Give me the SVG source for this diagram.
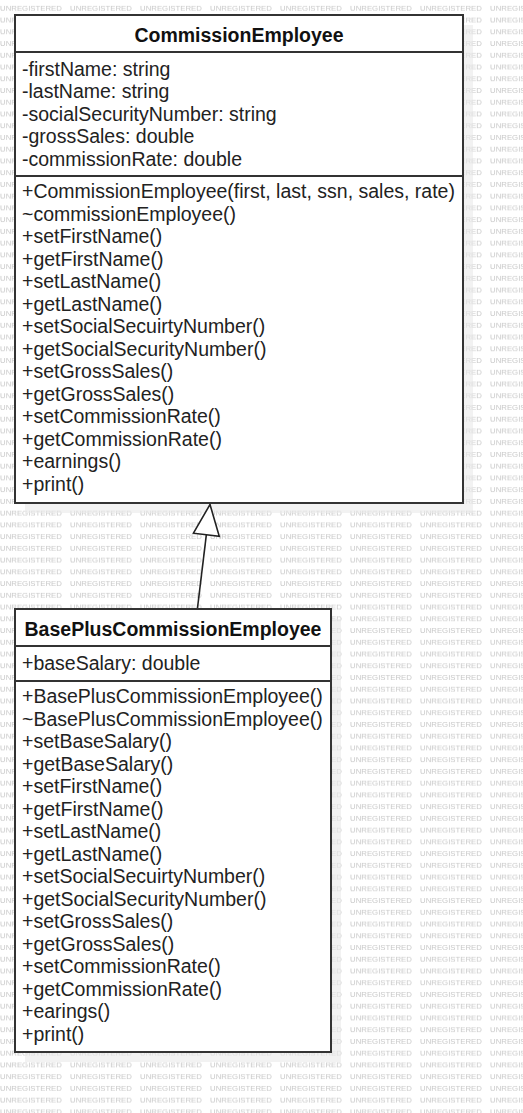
<svg xmlns="http://www.w3.org/2000/svg" width="523" height="1113" viewBox="0 0 523 1113">
<style>
.wm{font-family:"Liberation Sans",Arial,sans-serif;font-size:7.8px;fill:#c8c8c8}
.box{fill:#ffffff;stroke:#333333;stroke-width:2}
.sep{stroke:#333333;stroke-width:2}
.shadow{fill:#e9e9e9;fill-opacity:0.6}
.title{font-family:"Liberation Sans",Arial,sans-serif;font-size:19.5px;font-weight:bold;fill:#111111;text-anchor:middle}
.txt{font-family:"Liberation Sans",Arial,sans-serif;font-size:19.5px;fill:#222222}
.conn{stroke:#222222;stroke-width:1.6;fill:none}
</style>
<defs>
<pattern id="wmp" patternUnits="userSpaceOnUse" x="0" y="0" width="70" height="11.74">
<text class="wm" x="0" y="11">UNREGISTERED</text>
</pattern>
<marker id="gen" markerUnits="userSpaceOnUse" viewBox="0 0 33 29" refX="32" refY="14.5" markerWidth="33" markerHeight="29" orient="auto">
<path d="M1.5,1.5 L32,14.5 L1.5,27.5 Z" fill="#ffffff" stroke="#222222" stroke-width="1.6" stroke-linejoin="miter"/>
</marker>
</defs>
<rect x="0" y="0" width="523" height="1113" fill="#ffffff"/>
<rect x="0" y="0" width="523" height="1113" fill="url(#wmp)"/>
<g id="shadows">
<rect class="shadow" x="25" y="25" width="448" height="488"/>
<rect class="shadow" x="25" y="619" width="316" height="443"/>
</g>
<g id="CommissionEmployee">
<rect class="box" x="15" y="15" width="448" height="488"/>
<line class="sep" x1="15" y1="52" x2="463" y2="52"/>
<line class="sep" x1="15" y1="176" x2="463" y2="176"/>
<text class="title" x="239" y="42">CommissionEmployee</text>
<text class="txt" x="22" y="75.5"><tspan x="22">-firstName: string</tspan><tspan x="22" dy="22.5">-lastName: string</tspan><tspan x="22" dy="22.5">-socialSecurityNumber: string</tspan><tspan x="22" dy="22.5">-grossSales: double</tspan><tspan x="22" dy="22.5">-commissionRate: double</tspan></text>
<text class="txt" x="22" y="198"><tspan x="22">+CommissionEmployee(first, last, ssn, sales, rate)</tspan><tspan x="22" dy="22.5">~commissionEmployee()</tspan><tspan x="22" dy="22.5">+setFirstName()</tspan><tspan x="22" dy="22.5">+getFirstName()</tspan><tspan x="22" dy="22.5">+setLastName()</tspan><tspan x="22" dy="22.5">+getLastName()</tspan><tspan x="22" dy="22.5">+setSocialSecuirtyNumber()</tspan><tspan x="22" dy="22.5">+getSocialSecurityNumber()</tspan><tspan x="22" dy="22.5">+setGrossSales()</tspan><tspan x="22" dy="22.5">+getGrossSales()</tspan><tspan x="22" dy="22.5">+setCommissionRate()</tspan><tspan x="22" dy="22.5">+getCommissionRate()</tspan><tspan x="22" dy="22.5">+earnings()</tspan><tspan x="22" dy="22.5">+print()</tspan></text>
</g>
<g id="BasePlusCommissionEmployee">
<rect class="box" x="15" y="609" width="316" height="443"/>
<line class="sep" x1="15" y1="646" x2="331" y2="646"/>
<line class="sep" x1="15" y1="681" x2="331" y2="681"/>
<text class="title" x="173" y="636">BasePlusCommissionEmployee</text>
<text class="txt" x="22" y="669.5">+baseSalary: double</text>
<text class="txt" x="22" y="703"><tspan x="22">+BasePlusCommissionEmployee()</tspan><tspan x="22" dy="22.5">~BasePlusCommissionEmployee()</tspan><tspan x="22" dy="22.5">+setBaseSalary()</tspan><tspan x="22" dy="22.5">+getBaseSalary()</tspan><tspan x="22" dy="22.5">+setFirstName()</tspan><tspan x="22" dy="22.5">+getFirstName()</tspan><tspan x="22" dy="22.5">+setLastName()</tspan><tspan x="22" dy="22.5">+getLastName()</tspan><tspan x="22" dy="22.5">+setSocialSecuirtyNumber()</tspan><tspan x="22" dy="22.5">+getSocialSecurityNumber()</tspan><tspan x="22" dy="22.5">+setGrossSales()</tspan><tspan x="22" dy="22.5">+getGrossSales()</tspan><tspan x="22" dy="22.5">+setCommissionRate()</tspan><tspan x="22" dy="22.5">+getCommissionRate()</tspan><tspan x="22" dy="22.5">+earings()</tspan><tspan x="22" dy="22.5">+print()</tspan></text>
</g>
<g id="connectors">
<line class="conn" x1="197.5" y1="608" x2="210" y2="504.5" marker-end="url(#gen)"/>
</g>
</svg>
